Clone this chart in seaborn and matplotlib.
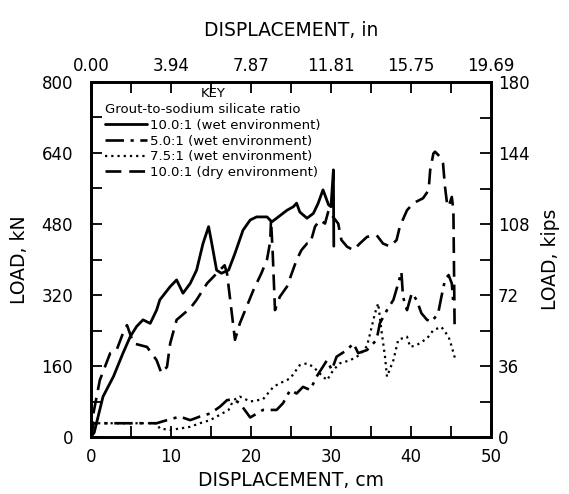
import matplotlib
matplotlib.use("Agg")
import matplotlib.pyplot as plt
from matplotlib.ticker import MultipleLocator, FixedLocator, FixedFormatter
import seaborn as sns
import numpy as np

# displacement (cm) / load (kN)
wet10_x = [0.0, 0.4, 1.5, 2.8, 4.0, 4.9, 5.7, 6.5, 7.4, 8.2, 8.6, 9.9, 10.7, 11.5, 12.4, 13.2,
           14.0, 14.7, 15.1, 15.7, 16.3, 17.2, 18.0, 19.0, 19.9, 20.7, 22.0, 22.6, 23.2, 24.5,
           25.3, 25.7, 26.1, 27.0, 27.8, 28.4, 29.0, 29.7, 30.0, 30.3, 30.35]
wet10_y = [0, 10, 91, 136, 189, 226, 249, 264, 256, 286, 309, 339, 354, 324, 346, 376,
           436, 474, 436, 376, 369, 376, 414, 466, 489, 496, 496, 485, 493, 511,
           519, 527, 507, 493, 504, 527, 557, 523, 519, 602, 430]

dry10_x = [0.0, 0.3, 1.1, 2.4, 3.2, 4.0, 4.5, 5.3, 7.0, 8.2, 8.8, 9.5, 9.9, 10.7, 12.4, 13.2,
           14.5, 16.1, 16.7, 17.0, 17.4, 18.0, 18.6, 20.3, 21.3, 22.0, 22.4, 22.5, 22.7, 23.0,
           23.6, 24.5, 25.7, 26.3, 27.0, 27.4, 28.0, 28.6, 29.25, 29.7, 30.3, 30.9, 31.3, 32.0,
           32.8, 33.6, 34.5, 35.7, 36.5, 37.4, 38.2, 38.6, 39.5, 40.3, 41.5, 42.2, 42.4, 42.8,
           43.0, 43.6, 44.0, 44.25, 44.5, 44.7, 45.1, 45.3, 45.45]
dry10_y = [0, 53, 128, 189, 196, 234, 252, 211, 203, 173, 144, 158, 211, 264, 290, 309,
           346, 376, 387, 369, 309, 219, 256, 331, 369, 400, 440, 489, 420, 286,
           316, 339, 399, 421, 436, 436, 474, 489, 481, 511, 495, 481, 444, 429,
           421, 436, 451, 455, 436, 429, 444, 474, 511, 527, 538, 556, 602, 639,
           643, 632, 617, 564, 527, 519, 541, 511, 250]

wet5_x = [0.0, 0.3, 2.8, 8.2, 9.5, 11.1, 12.4, 13.6, 14.9, 16.1, 17.0, 17.8, 18.6, 19.9, 21.5,
          23.2, 24.0, 24.9, 25.7, 26.5, 27.4, 28.2, 29.5, 30.1, 30.7, 32.0, 32.8, 33.4, 34.5,
          35.7, 36.1, 37.0, 37.8, 38.4, 38.8, 39.0, 39.5, 40.1, 40.7, 41.3, 42.0, 42.6, 43.4,
          43.8, 44.25, 44.7, 45.1, 45.3]
wet5_y = [0, 31, 31, 31, 38, 46, 38, 46, 53, 68, 83, 85, 76, 44, 61,
          61, 76, 106, 98, 113, 106, 136, 173, 151, 181, 196, 211, 189, 196,
          219, 256, 286, 309, 346, 372, 316, 286, 324, 309, 279, 264, 260, 279,
          316, 354, 365, 346, 300]

wet75_x = [0.0, 0.3, 2.8, 8.2, 8.6, 9.9, 11.1, 12.4, 13.6, 14.9, 16.1, 17.2, 17.8, 18.6, 19.9,
           21.5, 22.8, 23.6, 24.9, 26.1, 27.0, 27.8, 28.6, 29.5, 30.3, 31.1, 32.4, 33.6, 34.5,
           34.9, 35.5, 35.9, 36.3, 36.75, 37.0, 37.8, 38.4, 39.5, 39.9, 40.7, 42.0, 42.8, 43.8,
           44.7, 45.1, 45.5]
wet75_y = [0, 31, 31, 31, 19, 16, 19, 23, 31, 38, 50, 61, 83, 91, 80,
           85, 113, 121, 132, 162, 166, 158, 143, 128, 151, 166, 173, 185, 205,
           234, 279, 301, 241, 181, 136, 173, 219, 226, 203, 207, 222, 241, 248,
           226, 203, 177]

labels = ["10.0:1 (wet environment)", "5.0:1 (wet environment)",
          "7.5:1 (wet environment)", "10.0:1 (dry environment)"]
cm_ticks = [0, 10, 20, 30, 40, 50]
in_labels = [f"{c / 2.54:.2f}" for c in cm_ticks]
kn_ticks = [0, 160, 320, 480, 640, 800]
kip_ticks = [0, 36, 72, 108, 144, 180]

sns.set_style("ticks")
plt.rcParams["font.family"] = ["DejaVu Sans"]
plt.rcParams["text.color"] = "black"
plt.rcParams["axes.labelcolor"] = "black"
plt.rcParams["xtick.color"] = "black"
plt.rcParams["ytick.color"] = "black"

fig = plt.figure(figsize=(5.69, 4.94), dpi=100)
ax = fig.add_axes([91 / 569, 57 / 494, 400 / 569, 355 / 494])

styles = [
    (wet10_x, wet10_y, "-", 2.0),
    (wet5_x, wet5_y, (0, (7, 2.5, 1.2, 2.5)), 1.9),
    (wet75_x, wet75_y, (0, (1, 1.8)), 1.6),
    (dry10_x, dry10_y, (0, (6, 3)), 1.9),
]
for (xs, ys, ls, lw), lab in zip(styles, labels):
    sns.lineplot(x=xs, y=ys, ax=ax, color="black", linestyle=ls, linewidth=lw,
                 label=lab, sort=False, estimator=None)

ax.set_xlim(0, 50)
ax.set_ylim(0, 800)
ax.xaxis.set_major_locator(FixedLocator(cm_ticks))
ax.xaxis.set_minor_locator(MultipleLocator(5))
ax.yaxis.set_major_locator(FixedLocator(kn_ticks))
ax.yaxis.set_minor_locator(MultipleLocator(80))
ax.tick_params(axis="both", which="both", direction="in", length=8, width=1.3,
               labelsize=12)
ax.tick_params(axis="x", pad=8)
ax.tick_params(axis="y", pad=13)
for s in ax.spines.values():
    s.set_linewidth(1.8)
    s.set_color("black")

ax.set_xlabel("DISPLACEMENT, cm", fontsize=13.5)
ax.xaxis.set_label_coords(0.5, -0.095)
ax.set_ylabel("LOAD, kN", fontsize=13.5)
ax.yaxis.set_label_coords(-0.155, 0.5)

# top axis in inches
axt = ax.twiny()
axt.set_xlim(0, 50)
axt.xaxis.set_major_locator(FixedLocator(cm_ticks))
axt.xaxis.set_major_formatter(FixedFormatter(in_labels))
axt.xaxis.set_minor_locator(MultipleLocator(5))
axt.tick_params(axis="x", which="both", direction="in", length=8, width=1.3,
                labelsize=12, pad=5)
axt.set_xlabel("DISPLACEMENT, in", fontsize=13.5)
axt.xaxis.set_label_coords(0.5, 1.13)

# right axis in kips
axr = ax.twinx()
axr.set_ylim(0, 180)
axr.yaxis.set_major_locator(FixedLocator(kip_ticks))
axr.yaxis.set_minor_locator(MultipleLocator(18))
axr.tick_params(axis="y", which="both", direction="in", length=8, width=1.3,
                labelsize=12, pad=5)
axr.set_ylabel("LOAD, kips", fontsize=13.5)
axr.yaxis.set_label_coords(1.125, 0.5)
for a in (axt, axr):
    for s in a.spines.values():
        s.set_linewidth(1.8)
        s.set_color("black")

leg = ax.legend(loc="upper left", bbox_to_anchor=(0.035, 0.94), frameon=False,
                title="Grout-to-sodium silicate ratio", title_fontsize=9.5,
                fontsize=9.5, handlelength=3.2, handletextpad=0.2,
                labelspacing=0.2, borderpad=0, borderaxespad=0, alignment="left")
ax.text(0.305, 0.969, "KEY", transform=ax.transAxes, ha="center", va="center",
        fontsize=9.5)

fig.savefig("out.png", dpi=100)
